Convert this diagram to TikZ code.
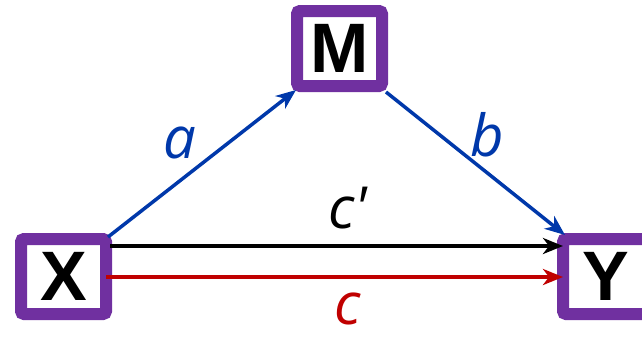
\documentclass[tikz,border=0pt]{standalone}
\usepackage{fontspec}
\setmainfont{Liberation Sans}
\newfontfamily\labfont[Ligatures=TeXOff]{Open Sans}
\usetikzlibrary{arrows.meta,calc}
\definecolor{boxpurple}{RGB}{112,48,160}
\definecolor{arrblue}{RGB}{0,56,170}
\definecolor{arrred}{RGB}{192,0,0}
\tikzset{
  varbox/.style={draw=boxpurple, line width=12pt, fill=white, rounded corners=3pt,
    minimum width=85pt, minimum height=75pt, inner sep=0pt,
    font=\fontsize{70}{70}\selectfont\bfseries},
  conn/.style={line width=3.5pt, -{Stealth[length=20pt,width=16pt,inset=6pt]}},
  lab/.style={font=\labfont\itshape\fontsize{58}{58}\selectfont, inner sep=0pt}
}
\begin{document}
\begin{tikzpicture}[x=1pt,y=-1pt]
\useasboundingbox (0,0) rectangle (642,338);
\clip (0,0) rectangle (642,338);
\node[varbox] (X) at (63.5,276.5) {X};
\node[varbox] (M) at (339.5,48.5) {M};
\node[varbox] (Y) at (605.5,276.5) {Y};
\coordinate (xa) at (108,237);
\coordinate (xb) at (110,246);
\coordinate (xc) at (106,277);
\coordinate (ma) at (296,90);
\coordinate (mb) at (386,92);
\coordinate (ya) at (565,235);
\coordinate (yb) at (563,246);
\coordinate (yc) at (563,277);
\draw[conn, arrblue] (xa) -- (ma);
\draw[conn, arrblue] (mb) -- (ya);
\draw[conn, black] (xb) -- (yb);
\draw[conn, arrred] (xc) -- (yc);
\node[lab, text=arrblue] (la) at (180,143) {a};
\node[lab, text=arrblue] (lb) at (487,135) {b};
\node[lab, text=black] (lcp) at (348,208) {c'};
\node[lab, text=arrred] (lc) at (348,309) {c};
\end{tikzpicture}
\end{document}
